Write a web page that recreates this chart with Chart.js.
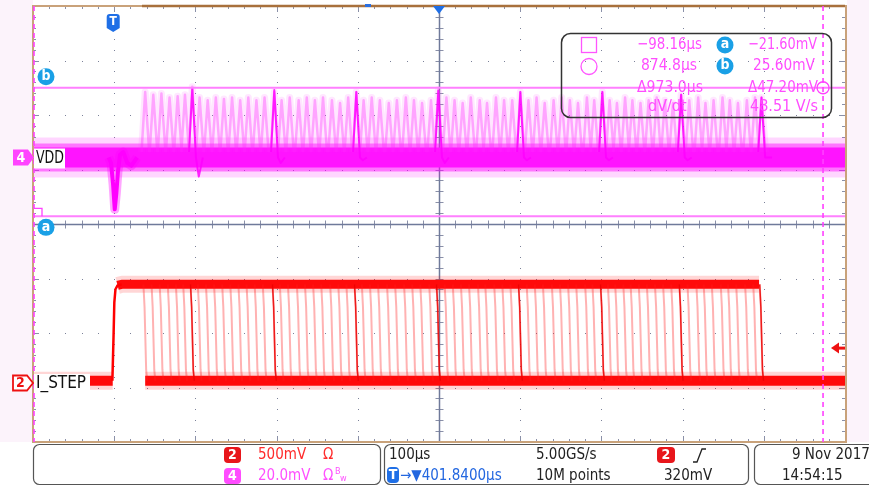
<!DOCTYPE html>
<html>
<head>
<meta charset="utf-8">
<title>VDD / I_STEP load step</title>
<script src="https://cdn.jsdelivr.net/npm/chart.js@4.4.1/dist/chart.umd.min.js"></script>
<style>
  html, body { margin: 0; padding: 0; background: #ffffff; }
  canvas { display: block; }
</style>
</head>
<body>
<canvas id="scope" width="869" height="487"></canvas>
<script>
// horizontal: 100µs/div, screen starts at the left cursor
const timeWindowUs = [-98.16, 901.84];
const usPerDiv = 100;
// vertical ranges of both channels on screen (8 div)
const ch4RangeMv = [-104.4, 55.6];   // VDD, 20mV/div
const ch2RangeMv = [-541.3, 3458.7]; // I_STEP, 500mV/div
const mvPerDiv4 = 20;

// I_STEP levels and rising edge
const ch2LowMv = 20;
const ch2HighMv = 905;
const ch2RiseUs = [-0.4, 1.0, 2.0, 3.4, 6, 11];
const ch2RiseMv = [20, 420, 740, 860, 895, 905];

// end of the pulse for every persisted acquisition
const fallTimesUs = [38, 48, 58, 68, 78, 87, 96, 105, 115, 125,
  135, 145, 155, 165, 175, 185, 197, 206, 216, 227,
  237, 247, 257, 268, 278, 288, 298, 307, 317, 327,
  338, 348, 359, 369, 379, 390, 399, 409, 419, 429,
  439, 450, 459, 470, 480, 490, 500, 510, 520, 530,
  541, 551, 561, 571, 582, 591, 601, 610, 619, 629,
  638, 648, 658, 668, 678, 688, 698, 708, 719, 728,
  738, 749, 758, 768, 779, 789, 797];
const strongFallsUs = [96, 197, 298, 399, 500, 601, 698, 797];

// VDD droop at the step
const vddDipUs = [-5, -2, 0.5, 2.5, 4.5, 6.5, 9, 13, 18, 23, 30];
const vddDipMv = [0, -2, -10, -19, -13, -5, 1, 2, -2, -3, 0];
// VDD overshoot after each release
const spikePeakMv = [24, 23, 23.5, 22, 22.5, 23, 26, 22, 21, 22,
  21.5, 22, 21, 22, 21, 22, 24, 21, 22, 21,
  22, 21, 22, 21, 20, 22, 24, 21, 22, 21,
  20, 21, 22, 21, 20, 21, 25, 22, 21, 20,
  22, 21, 20, 22, 21, 21, 24, 21, 22, 20,
  21, 22, 21, 20, 22, 21, 24, 21, 20, 22,
  21, 20, 21, 22, 21, 20, 23, 21, 22, 20,
  21, 22, 21, 20, 21, 22, 22];
const strongSpikeMv = [25.5, 24.8, 24, 24.5, 24, 24, 23, 22];
const strongDipMv = [-7, -2, -1, -2, -1, -1, -1, 0];

// cursors and trigger
const cursorTimesUs = [-98.16, 874.8];
const cursorLevelsMv = [-21.6, 25.6];
const triggerLevelMv = 320;

// readout texts
const readoutTime = ['−98.16µs', '874.8µs', 'Δ973.0µs', 'dV/dt'];
const readoutVolt = ['−21.60mV', '25.60mV', 'Δ47.20mV', '48.51 V/s'];

const FONT = '"DejaVu Sans Condensed", "Liberation Sans Narrow", "DejaVu Sans", sans-serif';

// ---- build datasets from the arrays ----
const pts = (xs, ys) => xs.map((x, i) => ({x: x, y: ys[i]}));
const flat = (mv, from, to) => [{x: from, y: mv}, {x: to, y: mv}];

const lastFall = fallTimesUs[fallTimesUs.length - 1];
const ch2Pre = flat(ch2LowMv, timeWindowUs[0], 0);
const ch2High = [{x: ch2RiseUs[4], y: ch2RiseMv[4]}, {x: ch2RiseUs[5], y: ch2HighMv}, {x: lastFall - 1, y: ch2HighMv}];
const ch2Low = flat(ch2LowMv, fallTimesUs[0] + 2, timeWindowUs[1]);

function fallPath(times) {
  const out = [];
  times.forEach(t => {
    out.push({x: t - 0.2, y: ch2HighMv}, {x: t + 1.2, y: 700}, {x: t + 3.2, y: 120},
      {x: t + 4.5, y: ch2LowMv}, {x: t + 4.6, y: null});
  });
  return out;
}

const spikes = [];
fallTimesUs.forEach((t, i) => {
  spikes.push({x: t - 2.5, y: 2}, {x: t + 2, y: spikePeakMv[i]}, {x: t + 7, y: 2}, {x: t + 7.1, y: null});
});
const strongSpikes = [];
strongFallsUs.forEach((t, i) => {
  strongSpikes.push({x: t - 2, y: 2}, {x: t + 2, y: strongSpikeMv[i]}, {x: t + 6.5, y: 0},
    {x: t + 10, y: strongDipMv[i]}, {x: t + 15, y: 0}, {x: t + 15.1, y: null});
});

function line(data, color, width, axis, order) {
  return {
    data: data, borderColor: color, borderWidth: width, yAxisID: axis, order: order,
    pointRadius: 0, tension: 0, fill: false, clip: 0, spanGaps: false,
    borderCapStyle: 'butt', borderJoinStyle: 'round'
  };
}

const vddFull = flat(0, timeWindowUs[0], timeWindowUs[1]);
const datasets = [
  // VDD (ch4)
  line(vddFull, 'rgba(255,0,255,0.16)', 40, 'y4', 100),
  line(vddFull, 'rgba(255,0,255,0.45)', 28, 'y4', 99),
  line(vddFull, '#ff14ff', 20, 'y4', 98),
  line(pts(vddDipUs, vddDipMv), 'rgba(255,0,255,0.35)', 9, 'y4', 97),
  line(pts(vddDipUs, vddDipMv), '#ff00ff', 4, 'y4', 96),
  line(spikes, 'rgba(255,60,255,0.12)', 7, 'y4', 95),
  line(spikes, 'rgba(255,40,255,0.35)', 2.5, 'y4', 94),
  line(strongSpikes, 'rgba(255,0,255,0.85)', 2, 'y4', 93),
  // I_STEP (ch2)
  line(ch2Pre, 'rgba(255,0,0,0.16)', 18, 'y2', 90),
  line(ch2High, 'rgba(255,0,0,0.16)', 17, 'y2', 90),
  line(ch2Low, 'rgba(255,0,0,0.16)', 18, 'y2', 90),
  line(ch2Pre, '#ff0a0a', 10, 'y2', 89),
  line(ch2High, '#ff0a0a', 9, 'y2', 89),
  line(ch2Low, '#ff0a0a', 10, 'y2', 89),
  line(pts(ch2RiseUs, ch2RiseMv), '#ff0000', 2.5, 'y2', 88),
  line(fallPath(fallTimesUs), 'rgba(255,30,30,0.34)', 2, 'y2', 87),
  line(fallPath(strongFallsUs), 'rgba(235,0,0,0.85)', 1.5, 'y2', 86)
];

// ---- drawing helpers ----
function roundRect(ctx, x, y, w, h, r) {
  ctx.beginPath();
  ctx.moveTo(x + r, y);
  ctx.arcTo(x + w, y, x + w, y + h, r);
  ctx.arcTo(x + w, y + h, x, y + h, r);
  ctx.arcTo(x, y + h, x, y, r);
  ctx.arcTo(x, y, x + w, y, r);
  ctx.closePath();
}

function text(ctx, str, x, y, color, size, align, weight, maxW) {
  ctx.font = (weight || 'normal') + ' ' + size + 'px ' + FONT;
  ctx.fillStyle = color;
  ctx.textAlign = align || 'left';
  ctx.textBaseline = 'middle';
  if (maxW) ctx.fillText(str, x, y, maxW);
  else ctx.fillText(str, x, y);
}

function badge(ctx, label, x, y, w, h, fill) {
  roundRect(ctx, x, y, w, h, 4);
  ctx.fillStyle = fill;
  ctx.fill();
  text(ctx, label, x + w / 2, y + h / 2 + 0.5, '#ffffff', 14, 'center', 'bold');
}

function cursorBadge(ctx, label, cx, cy) {
  ctx.beginPath();
  ctx.arc(cx, cy, 8.5, 0, Math.PI * 2);
  ctx.fillStyle = '#1aa0e6';
  ctx.fill();
  text(ctx, label, cx, cy - 0.5, '#ffffff', 14, 'center', 'bold');
}

//grid, graticule and everything around the traces
const scopeFrame = {
  id: 'scopeFrame',
  beforeDraw(chart) {
    const {ctx, chartArea: a} = chart;
    ctx.save();
    ctx.fillStyle = '#ffffff';
    ctx.fillRect(0, 0, chart.width, chart.height);
    ctx.fillStyle = '#fcf3fb';
    ctx.fillRect(0, 0, a.left, a.bottom);
    ctx.fillRect(a.right + 2, 0, chart.width - a.right - 2, a.bottom);
    ctx.restore();
  },
  beforeDatasetsDraw(chart) {
    const {ctx, chartArea: a, scales} = chart;
    const xs = scales.x, ys = scales.y4;
    ctx.save();
    // dotted grid
    ctx.fillStyle = '#7b8199';
    for (let i = 1; i < 10; i++) {
      if (i === 5) continue;
      const gx = Math.round(xs.getPixelForValue(timeWindowUs[0] + i * usPerDiv));
      for (let k = 1; k < 40; k++) ctx.fillRect(gx, Math.round(a.top + k * a.height / 40), 1, 1);
    }
    for (let j = 1; j < 8; j++) {
      if (j === 4) continue;
      const gy = Math.round(ys.getPixelForValue(ch4RangeMv[0] + j * mvPerDiv4));
      for (let k = 1; k < 50; k++) ctx.fillRect(Math.round(a.left + k * a.width / 50), gy, 1, 1);
    }
    // center cross
    const cx = Math.round(xs.getPixelForValue(timeWindowUs[0] + 5 * usPerDiv)) + 0.5;
    const cy = Math.round(ys.getPixelForValue(ch4RangeMv[0] + 4 * mvPerDiv4)) + 0.5;
    ctx.strokeStyle = '#8a90a8';
    ctx.lineWidth = 1;
    ctx.beginPath();
    for (let k = 1; k < 40; k++) {
      const y = Math.round(a.top + k * a.height / 40) + 0.5;
      ctx.moveTo(cx - 4, y); ctx.lineTo(cx + 4, y);
    }
    for (let k = 1; k < 50; k++) {
      const x = Math.round(a.left + k * a.width / 50) + 0.5;
      ctx.moveTo(x, cy - 4); ctx.lineTo(x, cy + 4);
    }
    // edge ticks
    for (let k = 1; k < 50; k++) {
      const x = Math.round(a.left + k * a.width / 50) + 0.5;
      const len = k % 5 === 0 ? 6 : 3;
      ctx.moveTo(x, a.top); ctx.lineTo(x, a.top + len);
      ctx.moveTo(x, a.bottom); ctx.lineTo(x, a.bottom - len);
    }
    for (let k = 1; k < 40; k++) {
      const y = Math.round(a.top + k * a.height / 40) + 0.5;
      const len = k % 5 === 0 ? 6 : 3;
      ctx.moveTo(a.left, y); ctx.lineTo(a.left + len, y);
      ctx.moveTo(a.right, y); ctx.lineTo(a.right - len, y);
    }
    ctx.stroke();
    ctx.strokeStyle = '#6f7a9a';
    ctx.lineWidth = 1.5;
    ctx.beginPath();
    ctx.moveTo(cx, a.top); ctx.lineTo(cx, a.bottom);
    ctx.moveTo(a.left, cy); ctx.lineTo(a.right, cy);
    ctx.stroke();
    ctx.restore();
  },
  afterDatasetsDraw(chart) {
    const {ctx, chartArea: a, scales} = chart;
    const xs = scales.x, y4 = scales.y4, y2 = scales.y2;
    ctx.save();

    // frame
    ctx.strokeStyle = '#c9a27a';
    ctx.lineWidth = 2;
    ctx.strokeRect(a.left, a.top, a.right - a.left + 1, a.bottom - a.top);
    ctx.strokeStyle = '#a8703c';
    ctx.lineWidth = 2.5;
    ctx.beginPath();
    ctx.moveTo(142, a.top); ctx.lineTo(a.right, a.top);
    ctx.stroke();
    ctx.fillStyle = '#2a6fe0';
    ctx.fillRect(365, a.top - 2, 6, 3);

    // horizontal cursors a / b
    const ya = y4.getPixelForValue(cursorLevelsMv[0]);
    const yb = y4.getPixelForValue(cursorLevelsMv[1]);
    ctx.strokeStyle = '#ff80ff';
    ctx.lineWidth = 2;
    ctx.beginPath();
    ctx.moveTo(a.left, ya); ctx.lineTo(a.right, ya);
    ctx.moveTo(a.left, yb); ctx.lineTo(a.right, yb);
    ctx.stroke();

    // vertical cursors
    const x1 = Math.max(xs.getPixelForValue(cursorTimesUs[0]), a.left + 1);
    const x2 = xs.getPixelForValue(cursorTimesUs[1]);
    ctx.strokeStyle = '#ff40ff';
    ctx.lineWidth = 1.6;
    ctx.setLineDash([5, 4]);
    ctx.beginPath();
    ctx.moveTo(x1, a.top); ctx.lineTo(x1, a.bottom);
    ctx.moveTo(x2, a.top); ctx.lineTo(x2, a.bottom);
    ctx.stroke();
    ctx.setLineDash([]);
    ctx.lineWidth = 1.3;
    ctx.strokeStyle = '#ff40ff';
    ctx.beginPath();
    ctx.moveTo(x1, ya - 8); ctx.lineTo(x1 + 8, ya - 8); ctx.lineTo(x1 + 8, ya);
    ctx.stroke();
    ctx.beginPath();
    ctx.arc(x2, yb, 6, 0, Math.PI * 2);
    ctx.stroke();

    cursorBadge(ctx, 'b', a.left + 13, yb - 11);
    cursorBadge(ctx, 'a', a.left + 13, ya + 11);

    // channel markers + labels
    const g4 = y4.getPixelForValue(0);
    ctx.beginPath();
    ctx.moveTo(13, g4 - 8); ctx.lineTo(28, g4 - 8); ctx.lineTo(34, g4);
    ctx.lineTo(28, g4 + 8); ctx.lineTo(13, g4 + 8); ctx.closePath();
    ctx.fillStyle = '#ff44ff';
    ctx.fill();
    text(ctx, '4', 21, g4 + 0.5, '#ffffff', 14, 'center', 'bold');
    ctx.fillStyle = '#ffffff';
    ctx.fillRect(34, g4 - 9, 31, 20);
    text(ctx, 'VDD', 36, g4 + 1, '#111111', 17, 'left', 'normal', 28);

    const g2 = y2.getPixelForValue(0);
    ctx.beginPath();
    ctx.moveTo(13, g2 - 7.5); ctx.lineTo(27, g2 - 7.5); ctx.lineTo(33, g2);
    ctx.lineTo(27, g2 + 7.5); ctx.lineTo(13, g2 + 7.5); ctx.closePath();
    ctx.fillStyle = '#ffffff';
    ctx.fill();
    ctx.strokeStyle = '#ee1111';
    ctx.lineWidth = 1.8;
    ctx.stroke();
    text(ctx, '2', 20.5, g2 + 0.5, '#ee1111', 14, 'center', 'bold');
    ctx.fillStyle = '#ffffff';
    ctx.fillRect(34, g2 - 9, 56, 19);
    text(ctx, 'I_STEP', 36, g2 + 1, '#111111', 17, 'left', 'normal', 52);

    // trigger marker at t = 0
    const xt = xs.getPixelForValue(0) + 0.5;
    ctx.beginPath();
    ctx.moveTo(xt - 6.5, 18); ctx.arcTo(xt - 6.5, 14, xt, 14, 3);
    ctx.arcTo(xt + 6.5, 14, xt + 6.5, 18, 3);
    ctx.lineTo(xt + 6.5, 28); ctx.lineTo(xt, 32); ctx.lineTo(xt - 6.5, 28); ctx.closePath();
    ctx.fillStyle = '#1f6fe6';
    ctx.fill();
    text(ctx, 'T', xt, 22, '#ffffff', 12, 'center', 'bold');

    // horizontal position marker
    const xc = xs.getPixelForValue((timeWindowUs[0] + timeWindowUs[1]) / 2);
    ctx.beginPath();
    ctx.moveTo(xc - 6, a.top); ctx.lineTo(xc + 6, a.top); ctx.lineTo(xc, a.top + 8); ctx.closePath();
    ctx.fillStyle = '#1f6fe6';
    ctx.fill();

    // trigger level arrow
    const yl = y2.getPixelForValue(triggerLevelMv);
    ctx.beginPath();
    ctx.moveTo(a.right - 14, yl); ctx.lineTo(a.right - 6, yl - 5.5); ctx.lineTo(a.right - 6, yl + 5.5); ctx.closePath();
    ctx.fillStyle = '#ee1111';
    ctx.fill();
    ctx.fillRect(a.right - 7, yl - 1.5, 7, 3);

    // cursor readout
    roundRect(ctx, 561.5, 33.5, 270, 84, 9);
    ctx.strokeStyle = '#333333';
    ctx.lineWidth = 1.5;
    ctx.stroke();
    ctx.strokeStyle = '#ff55ff';
    ctx.lineWidth = 1.3;
    ctx.strokeRect(581.5, 37.5, 15, 15);
    ctx.beginPath();
    ctx.arc(589, 66.5, 8, 0, Math.PI * 2);
    ctx.stroke();
    cursorBadge(ctx, 'a', 725, 45);
    cursorBadge(ctx, 'b', 725, 66);
    const rowY = [45, 66, 88, 107];
    const timeX = [637, 641, 637, 648];
    const timeW = [65, 56, 66, 40];
    const voltX = [748, 753, 748, 750];
    const voltW = [69, 62, 70, 68];
    rowY.forEach((y, i) => {
      text(ctx, readoutTime[i], timeX[i], y, '#ff4dff', 16, 'left', 'normal', timeW[i]);
      text(ctx, readoutVolt[i], voltX[i], y, '#ff4dff', 16, 'left', 'normal', voltW[i]);
    });

    // status panel
    ctx.strokeStyle = '#555555';
    ctx.lineWidth = 1.2;
    roundRect(ctx, 33.5, 444.5, 347, 40, 6); ctx.stroke();
    roundRect(ctx, 384.5, 444.5, 364, 40, 6); ctx.stroke();
    roundRect(ctx, 754.5, 444.5, 122, 40, 6); ctx.stroke();

    badge(ctx, '2', 224, 447, 17, 16, '#e8161b');
    text(ctx, '500mV', 258, 455, '#ff2b2b', 15);
    text(ctx, 'Ω', 323, 455, '#ff2b2b', 15);
    badge(ctx, '4', 224, 468, 17, 16, '#ff4cff');
    text(ctx, '20.0mV', 258, 476, '#ff50ff', 15);
    text(ctx, 'Ω', 323, 476, '#ff50ff', 15);
    text(ctx, 'B', 335, 472, '#ff50ff', 9);
    text(ctx, 'w', 340, 479, '#ff50ff', 9);

    text(ctx, '100µs', 389, 455, '#222222', 15);
    text(ctx, '5.00GS/s', 536, 455, '#222222', 15);
    badge(ctx, '2', 657, 447, 18, 16, '#e8161b');
    ctx.strokeStyle = '#222222';
    ctx.lineWidth = 1.3;
    ctx.beginPath();
    ctx.moveTo(693, 462); ctx.lineTo(697, 462); ctx.lineTo(702, 449); ctx.lineTo(706, 449);
    ctx.stroke();
    badge(ctx, 'T', 387, 467, 12, 16, '#1f6fe6');
    text(ctx, '→▼401.8400µs', 400, 476, '#2367e0', 15);
    text(ctx, '10M points', 536, 476, '#222222', 15);
    text(ctx, '320mV', 664, 476, '#222222', 15);

    text(ctx, '9 Nov 2017', 792, 455, '#222222', 15);
    text(ctx, '14:54:15', 782, 476, '#222222', 15);
    ctx.restore();
  }
};

new Chart(document.getElementById('scope').getContext('2d'), {
  type: 'line',
  data: { datasets: datasets },
  options: {
    responsive: false,
    devicePixelRatio: 1,
    animation: false,
    events: [],
    layout: { padding: { left: 33, top: 6, right: 24, bottom: 45 } },
    plugins: { legend: { display: false }, tooltip: { enabled: false } },
    elements: { point: { radius: 0 } },
    scales: {
      x: { type: 'linear', min: timeWindowUs[0], max: timeWindowUs[1], display: false },
      y4: { type: 'linear', min: ch4RangeMv[0], max: ch4RangeMv[1], display: false },
      y2: { type: 'linear', min: ch2RangeMv[0], max: ch2RangeMv[1], display: false }
    }
  },
  plugins: [scopeFrame]
});
</script>
</body>
</html>
